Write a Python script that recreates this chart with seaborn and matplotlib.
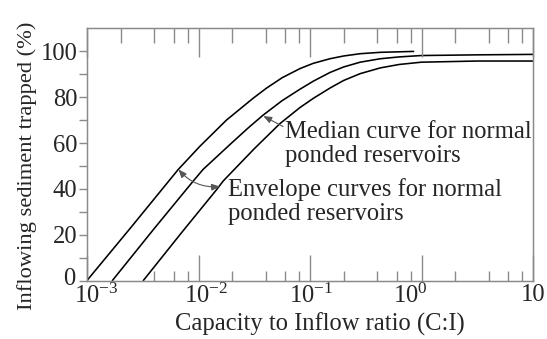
import matplotlib
matplotlib.use("Agg")
import matplotlib.pyplot as plt
import matplotlib.transforms as mtransforms
import numpy as np
import pandas as pd
import seaborn as sns

# ---- data (Brune-type trap efficiency curves) ----
upper_x = [0.001, 0.00251, 0.00659, 0.0103, 0.0178, 0.0308, 0.0408, 0.0562,
           0.0813, 0.107, 0.151, 0.2, 0.282, 0.427, 0.85]
upper_y = [0, 23.5, 48.5, 58.6, 70, 79.5, 84, 88.5, 92.5, 94.8, 96.8, 98,
           99, 99.6, 100]

median_x = [0.00169, 0.00398, 0.00897, 0.011, 0.02, 0.0282, 0.038, 0.0562,
            0.0813, 0.107, 0.151, 0.2, 0.282, 0.427, 0.631, 1.0, 3.16, 10]
median_y = [0, 22.5, 43.4, 48.5, 60.2, 66.8, 72.2, 78.5, 83.5, 87, 90.8,
            93.2, 95.3, 96.8, 97.6, 98.2, 98.5, 98.7]

lower_x = [0.0032, 0.00708, 0.01455, 0.0167, 0.0316, 0.0538, 0.0813, 0.107,
           0.151, 0.2, 0.282, 0.427, 0.631, 1.0, 3.16, 10]
lower_y = [0, 21, 39.7, 43.5, 57.5, 68.5, 75.5, 79.5, 84, 87.3, 90.3, 92.8,
           94.3, 95.3, 95.8, 95.8]

x_major = [0.001, 0.01, 0.1, 1, 10]
x_major_labels = [r"$10^{-3}$", r"$10^{-2}$", r"$10^{-1}$", r"$10^{0}$", "10"]
y_major = [0, 20, 40, 60, 80, 100]
y_minor = [10, 30, 50, 70, 90]

median_text = ["Median curve for normal", "ponded reservoirs"]
envelope_text = ["Envelope curves for normal", "ponded reservoirs"]

# ---- style ----
sns.set_style("ticks")
plt.rcParams["font.family"] = ["Liberation Serif", "DejaVu Serif"]
plt.rcParams["mathtext.fontset"] = "custom"
plt.rcParams["mathtext.rm"] = "Liberation Serif"
plt.rcParams["mathtext.it"] = "Liberation Serif:italic"
plt.rcParams["mathtext.bf"] = "Liberation Serif:bold"
FS = 17.7
spine_col = "#8a8a8a"

W, H = 547, 339
fig = plt.figure(figsize=(W / 100, H / 100), dpi=100)
L, R, T, B = 87, 533, 28.5, 280.5
ax = fig.add_axes([L / W, 1 - B / H, (R - L) / W, (B - T) / H])

curves = pd.concat([
    pd.DataFrame({"x": upper_x, "y": upper_y, "curve": "upper"}),
    pd.DataFrame({"x": median_x, "y": median_y, "curve": "median"}),
    pd.DataFrame({"x": lower_x, "y": lower_y, "curve": "lower"}),
])
for name in ["upper", "median", "lower"]:
    sns.lineplot(data=curves[curves.curve == name], x="x", y="y", ax=ax,
                 color="black", lw=1.15, sort=False, estimator=None)

ax.set_xscale("log")
ax.set_xlim(1e-3, 10)
ax.set_ylim(0, 110)

for s in ax.spines.values():
    s.set_color(spine_col)
    s.set_linewidth(1.0)

# x ticks: inward, bottom (no 2e-3 minor at bottom as in reference)
minor_all = [m * 10.0 ** e for e in range(-3, 1) for m in (2, 4, 6, 8)]
minor_bottom = [v for v in minor_all if abs(v - 0.002) > 1e-9]
ax.set_xticks(x_major)
ax.set_xticklabels(x_major_labels)
ax.set_xticks(minor_bottom, minor=True)
ax.xaxis.set_minor_formatter(matplotlib.ticker.NullFormatter())
ax.tick_params(axis="x", which="major", direction="in", length=19,
               color=spine_col, width=1.0, labelsize=FS, pad=2.5)
ax.tick_params(axis="x", which="minor", direction="in", length=7,
               color=spine_col, width=1.0)

# shift tick labels horizontally like the reference (px offsets)
label_dx_px = [9, 8, 1, -11, 0]
for lab, dx in zip(ax.get_xticklabels(), label_dx_px):
    lab.set_transform(lab.get_transform() +
                      mtransforms.ScaledTranslation(dx / 100, 0, fig.dpi_scale_trans))

# top ticks via twin axis
ax2 = ax.twiny()
ax2.set_xscale("log")
ax2.set_xlim(ax.get_xlim())
ax2.set_xticks(x_major)
ax2.set_xticks(minor_all, minor=True)
ax2.xaxis.set_major_formatter(matplotlib.ticker.NullFormatter())
ax2.xaxis.set_minor_formatter(matplotlib.ticker.NullFormatter())
ax2.tick_params(axis="x", which="major", direction="in", length=21,
                color=spine_col, width=1.0, top=True)
ax2.tick_params(axis="x", which="minor", direction="in", length=11,
                color=spine_col, width=1.0, top=True)
for s in ax2.spines.values():
    s.set_color(spine_col)

# y ticks: outward, left only
ax.set_yticks(y_major)
ax.set_yticks(y_minor, minor=True)
ax.tick_params(axis="y", which="both", direction="out", length=5.5,
               color=spine_col, width=1.0, labelsize=FS, pad=1.5, right=False)
# lift the "0" label a little so it clears the 10^-3 label
ylabs = ax.get_yticklabels()
ylabs[0].set_transform(ylabs[0].get_transform() +
                       mtransforms.ScaledTranslation(-0.02, 0.04, fig.dpi_scale_trans))

ax.set_xlabel("Capacity to Inflow ratio (C:I)", fontsize=FS)
ax.set_ylabel("Inflowing sediment trapped (%)", fontsize=16.2)
ax.xaxis.set_label_coords(0.522, -0.128)
ax.yaxis.set_label_coords(-0.112, 0.455)

# annotations
arrow_col = "#555555"
ax.annotate("", xy=(0.0381, 71.8), xytext=(0.0573, 67.2),
            arrowprops=dict(arrowstyle="-|>,head_length=0.5,head_width=0.2",
                            color=arrow_col, lw=0.8, shrinkA=0, shrinkB=0))
ax.annotate("", xy=(0.0156, 41.0), xytext=(0.0066, 48.5),
            arrowprops=dict(arrowstyle="<|-|>,head_length=0.5,head_width=0.2",
                            color=arrow_col, lw=0.8, shrinkA=0, shrinkB=0,
                            connectionstyle="arc3,rad=0.25"))

for i, line in enumerate(median_text):
    ax.text(0.0597, 62.4 - 10.5 * i, line, fontsize=FS, va="baseline", ha="left")
for i, line in enumerate(envelope_text):
    ax.text(0.0184, 37.0 - 10.5 * i, line, fontsize=FS, va="baseline", ha="left")

fig.savefig("out.png", dpi=100)
